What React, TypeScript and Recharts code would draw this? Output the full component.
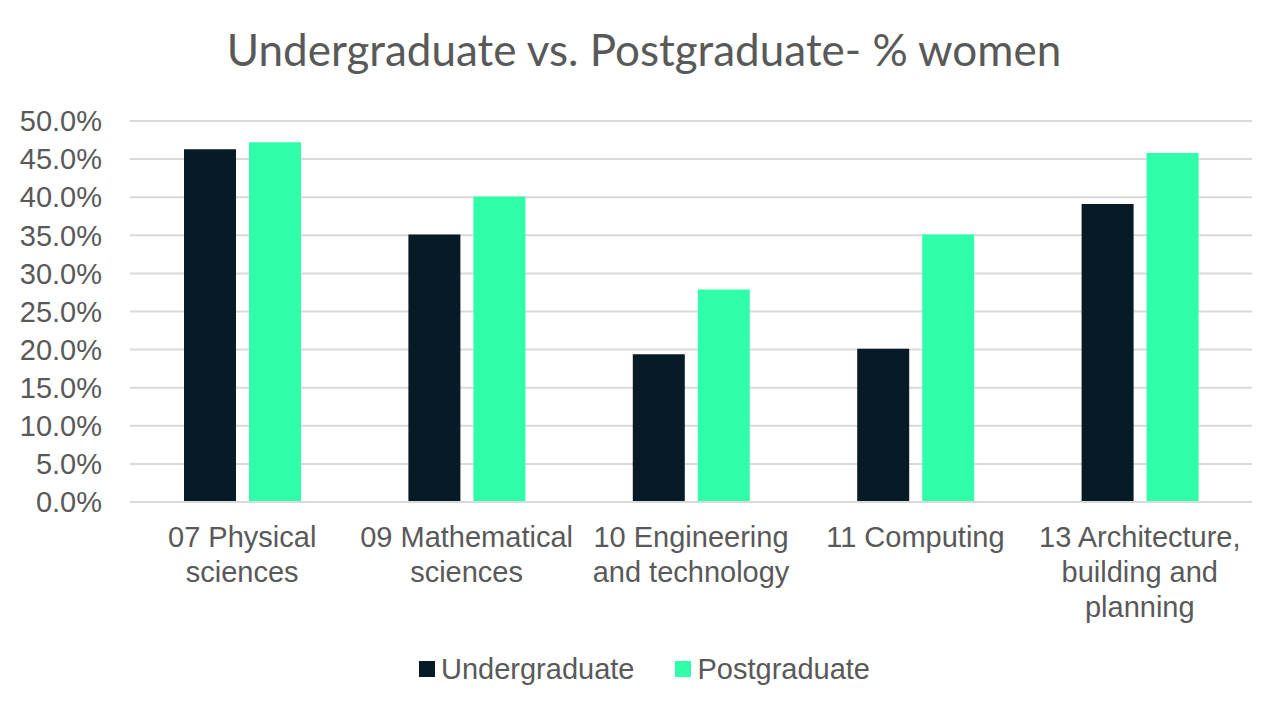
import { Bar, BarChart, CartesianGrid, XAxis, YAxis } from 'recharts';

const CATEGORIES = [
  '07 Physical\nsciences',
  '09 Mathematical\nsciences',
  '10 Engineering\nand technology',
  '11 Computing',
  '13 Architecture,\nbuilding and\nplanning',
];
const UNDERGRADUATE = [46.3, 35.1, 19.4, 20.1, 39.1];
const POSTGRADUATE = [47.2, 40.1, 27.9, 35.1, 45.8];
const Y_TICKS = [0, 5, 10, 15, 20, 25, 30, 35, 40, 45, 50];

const SERIES = [
  { key: 'undergraduate', name: 'Undergraduate', color: '#071B26' },
  { key: 'postgraduate', name: 'Postgraduate', color: '#30FFAA' },
];

const data = CATEGORIES.map((label, i) => ({
  label,
  undergraduate: UNDERGRADUATE[i],
  postgraduate: POSTGRADUATE[i],
}));

const TEXT = '#595959';
const FONT = '"Liberation Sans", Arial, sans-serif';

function CategoryTick({ x, y, payload }: any) {
  const lines = String(payload.value).split('\n');
  return (
    <text x={x} y={y} textAnchor="middle" fill={TEXT} fontSize={29} fontFamily={FONT}>
      {lines.map((line, i) => (
        <tspan key={i} x={x} y={y + 45 + i * 35}>
          {line}
        </tspan>
      ))}
    </text>
  );
}

export default function App() {
  return (
    <div style={{ position: 'absolute', left: 0, top: 0, width: 1288, height: 712, background: '#fff' }}>
      <div
        style={{
          position: 'absolute',
          top: 23,
          width: 1288,
          textAlign: 'center',
          fontFamily: 'Lato, sans-serif',
          fontSize: 44,
          color: TEXT,
          lineHeight: '52px',
        }}
      >
        Undergraduate vs. Postgraduate- % women
      </div>
      <BarChart
        width={1288}
        height={712}
        data={data}
        margin={{ top: 121, right: 36, left: 0, bottom: 60 }}
        barSize={52}
        barGap={13}
      >
        <CartesianGrid vertical={false} stroke="#D9D9D9" strokeWidth={2} />
        <XAxis
          dataKey="label"
          height={150}
          interval={0}
          tickLine={false}
          tickSize={0}
          tickMargin={0}
          axisLine={{ stroke: '#D9D9D9', strokeWidth: 2 }}
          tick={<CategoryTick />}
        />
        <YAxis
          width={130}
          domain={[0, 50]}
          ticks={Y_TICKS}
          interval={0}
          axisLine={false}
          tickLine={false}
          tickSize={0}
          tickMargin={28}
          tickFormatter={(v: number) => `${v.toFixed(1)}%`}
          tick={{ fill: TEXT, fontSize: 29, fontFamily: FONT }}
        />
        {SERIES.map((s) => (
          <Bar key={s.key} dataKey={s.key} name={s.name} fill={s.color} isAnimationActive={false} />
        ))}
      </BarChart>
      <div
        style={{
          position: 'absolute',
          top: 652,
          left: 419,
          display: 'flex',
          alignItems: 'center',
          fontFamily: FONT,
          fontSize: 29,
          color: TEXT,
          lineHeight: '34px',
        }}
      >
        {SERIES.map((s, i) => (
          <div key={s.key} style={{ display: 'flex', alignItems: 'center', marginRight: i === 0 ? 41 : 0 }}>
            <span style={{ display: 'inline-block', width: 16, height: 16, background: s.color, marginRight: 6 }} />
            <span>{s.name}</span>
          </div>
        ))}
      </div>
    </div>
  );
}
